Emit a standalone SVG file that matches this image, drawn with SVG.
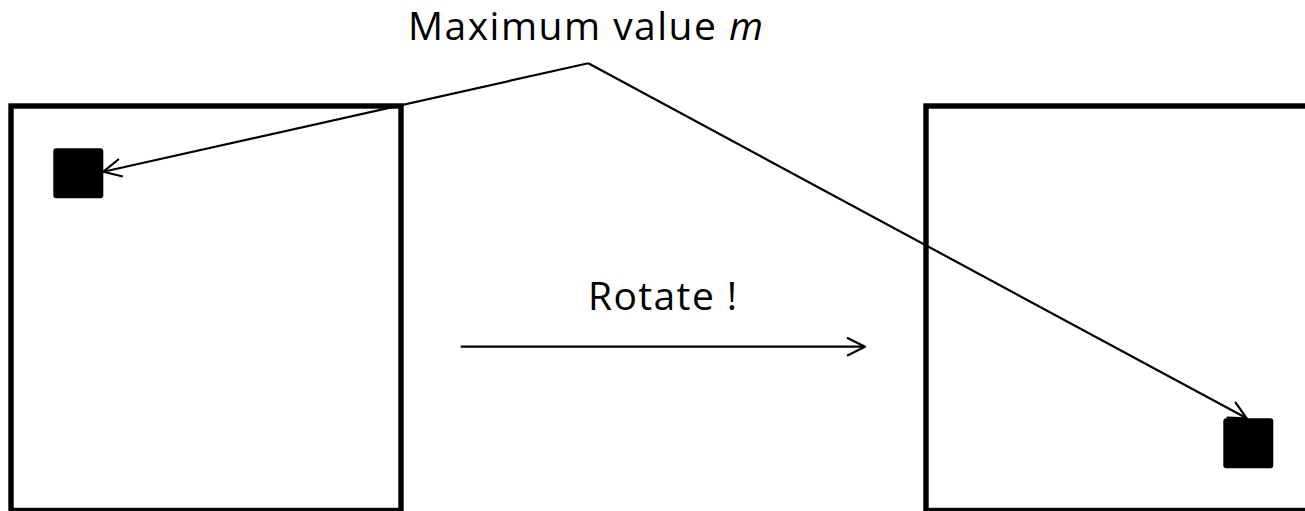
<svg xmlns="http://www.w3.org/2000/svg" width="1305" height="511" viewBox="0 0 1305 511">
<style>
.box{fill:none;stroke:#000;stroke-width:5.4}
.dot{fill:#000}
.con{fill:none;stroke:#000;stroke-width:2.2}
.lbl{font-family:"Open Sans","Liberation Sans",sans-serif;font-size:39px;fill:#000}
</style>
<defs>
<marker id="open" viewBox="0 0 20 20" refX="19" refY="10" markerWidth="20" markerHeight="20" markerUnits="userSpaceOnUse" orient="auto">
<path d="M1,1 L19,10 L1,19" fill="none" stroke="#000" stroke-width="2.2"/>
</marker>
</defs>
<rect width="1305" height="511" fill="#fff"/>
<g id="left-panel">
<rect class="box" x="11" y="106" width="390" height="404.5"/>
<rect class="dot" x="53.3" y="148.3" width="50" height="50" rx="3"/>
</g>
<g id="right-panel">
<rect class="box" x="926" y="106" width="400" height="404.5"/>
<rect class="dot" x="1223.3" y="418.3" width="50" height="50" rx="3"/>
</g>
<g id="label-max">
<text class="lbl" x="408" y="40" textLength="355" lengthAdjust="spacing">Maximum value <tspan font-style="italic">m</tspan></text>
</g>
<g id="label-rotate">
<text class="lbl" x="588" y="310" textLength="149" lengthAdjust="spacing">Rotate !</text>
</g>
<g id="connectors">
<polyline class="con" points="588.3,63.3 103.3,171.7" marker-end="url(#open)"/>
<polyline class="con" points="588.3,63.3 1246.7,418.3" marker-end="url(#open)"/>
<line class="con" x1="460.7" y1="346.7" x2="865" y2="346.7" marker-end="url(#open)"/>
</g>
</svg>
